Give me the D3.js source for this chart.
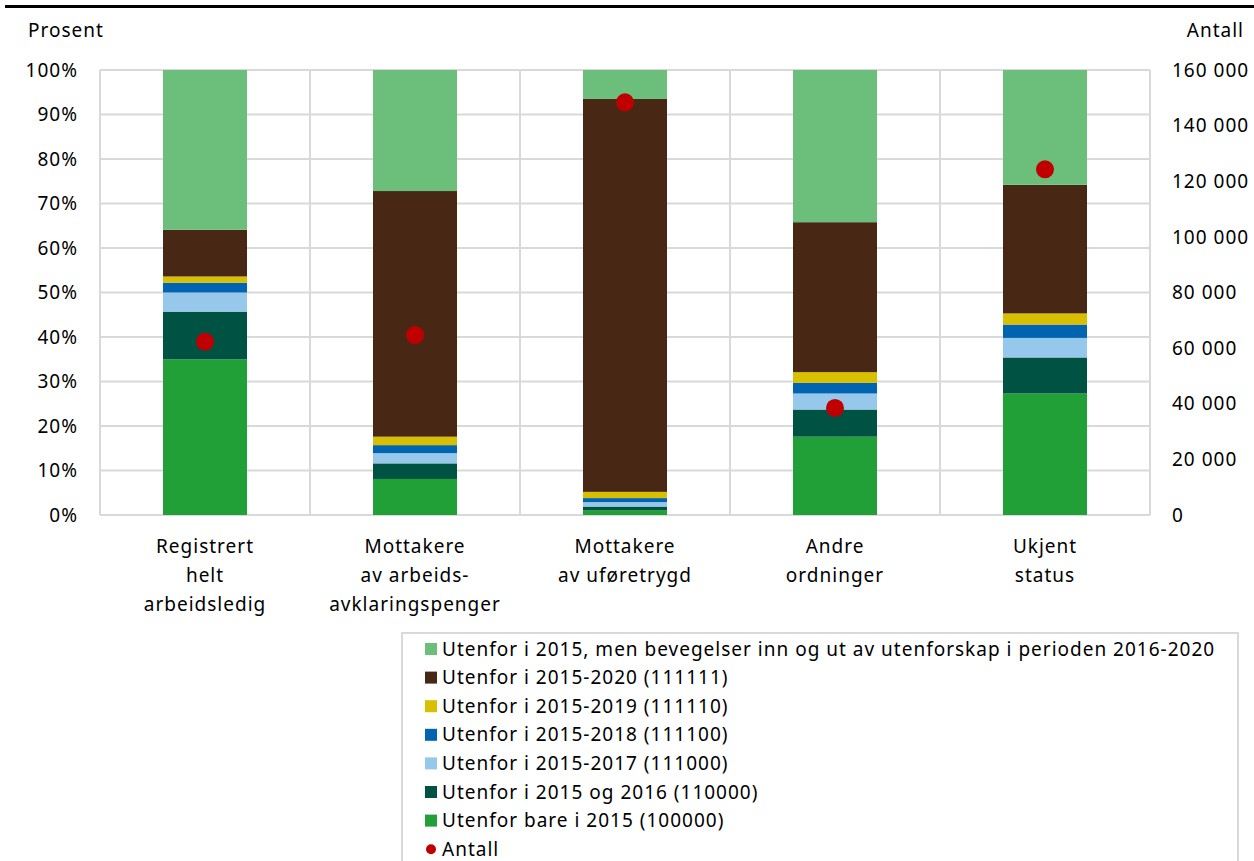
<!DOCTYPE html>
<html>
<head>
<meta charset="utf-8">
<script src="https://cdn.jsdelivr.net/npm/d3@7"></script>
<style>
  body { margin: 0; background: #fff; }
  text { font-family: "Noto Sans", "Open Sans", sans-serif; fill: #000; font-size: 19px; letter-spacing: 1px; }
</style>
</head>
<body>
<svg width="1254" height="861"></svg>
<script>
(function () {

    // categories (line-broken as in the chart)
    var categories = [
        ["Registrert", "helt", "arbeidsledig"],
        ["Mottakere", "av arbeids-", "avklaringspenger"],
        ["Mottakere", "av uføretrygd"],
        ["Andre", "ordninger"],
        ["Ukjent", "status"]
    ];

    // shares in percent, bottom to top
    var bare2015 = [35.0, 8.1, 1.1, 17.6, 27.3];
    var og2016 = [10.7, 3.5, 0.8, 6.1, 8.1];
    var til2017 = [4.3, 2.3, 1.0, 3.6, 4.4];
    var til2018 = [2.2, 1.8, 0.9, 2.4, 3.0];
    var til2019 = [1.4, 1.9, 1.4, 2.4, 2.5];
    var til2020 = [10.5, 55.2, 88.3, 33.7, 28.9];
    var bevegelser = [35.9, 27.2, 6.5, 34.2, 25.8];

    // number of persons (right axis)
    var antall = [62300, 64700, 148400, 38500, 124300];

    var pctTicks = [0, 10, 20, 30, 40, 50, 60, 70, 80, 90, 100];
    var antallTicks = [0, 20000, 40000, 60000, 80000, 100000, 120000, 140000, 160000];

    var series = [
        {name: "Utenfor bare i 2015 (100000)", values: bare2015, color: "#21a038"},
        {name: "Utenfor i 2015 og 2016 (110000)", values: og2016, color: "#005243"},
        {name: "Utenfor i 2015-2017 (111000)", values: til2017, color: "#96c8eb"},
        {name: "Utenfor i 2015-2018 (111100)", values: til2018, color: "#0064b0"},
        {name: "Utenfor i 2015-2019 (111110)", values: til2019, color: "#d8bf00"},
        {name: "Utenfor i 2015-2020 (111111)", values: til2020, color: "#482714"},
        {name: "Utenfor i 2015, men bevegelser inn og ut av utenforskap i perioden 2016-2020", values: bevegelser, color: "#6bbf7b"}
    ];

    var svg = d3.select("svg"),
        margin = {top: 70, right: 104, bottom: 346, left: 100},
        width = +svg.attr("width") - margin.left - margin.right,
        height = +svg.attr("height") - margin.top - margin.bottom;

    // top rule
    svg.append("line")
        .attr("x1", 5).attr("x2", 1254)
        .attr("y1", 6.5).attr("y2", 6.5)
        .attr("stroke", "#000").attr("stroke-width", 3);

    var g = svg.append("g").attr("transform", "translate(" + margin.left + "," + margin.top + ")");

    var idx = d3.range(categories.length);
    var x = d3.scaleBand().domain(idx).range([0, width]).paddingInner(0.6).paddingOuter(0.3);
    var y = d3.scaleLinear().domain([0, 100]).range([height, 0]);
    var y2 = d3.scaleLinear().domain([0, 160000]).range([height, 0]);

    // grid
    g.selectAll(".hgrid").data(pctTicks).enter().append("line")
        .attr("x1", 0).attr("x2", width)
        .attr("y1", d => y(d)).attr("y2", d => y(d))
        .attr("stroke", "#d9d9d9").attr("stroke-width", 2);

    var step = x.step();
    g.selectAll(".vgrid").data(d3.range(categories.length + 1)).enter().append("line")
        .attr("x1", d => d * step).attr("x2", d => d * step)
        .attr("y1", 0).attr("y2", height)
        .attr("stroke", "#d9d9d9").attr("stroke-width", 2);

    // stacked bars
    var table = idx.map(i => {
        var row = {i: i};
        series.forEach((s, k) => row[k] = s.values[i]);
        return row;
    });
    var stack = d3.stack().keys(d3.range(series.length))(table);

    g.selectAll(".layer").data(stack).enter().append("g")
        .attr("fill", (d, k) => series[k].color)
        .selectAll("rect").data(d => d).enter().append("rect")
        .attr("x", d => x(d.data.i))
        .attr("width", x.bandwidth())
        .attr("y", d => y(d[1]))
        .attr("height", d => y(d[0]) - y(d[1]));

    // antall dots
    g.selectAll(".dot").data(antall).enter().append("circle")
        .attr("cx", (d, i) => x(i) + x.bandwidth() / 2)
        .attr("cy", d => y2(d))
        .attr("r", 9)
        .attr("fill", "#c00000");

    // left axis labels
    g.selectAll(".ly").data(pctTicks).enter().append("text")
        .attr("x", -22).attr("y", d => y(d))
        .attr("dy", "0.35em")
        .attr("text-anchor", "end")
        .text(d => d + "%");

    // right axis labels
    var fmt = v => d3.format(",")(v).replace(/,/g, " ");
    g.selectAll(".ry").data(antallTicks).enter().append("text")
        .attr("x", width + 22).attr("y", d => y2(d))
        .attr("dy", "0.35em")
        .text(fmt);

    svg.append("text").attr("x", 28).attr("y", 37).text("Prosent");
    svg.append("text").attr("x", 1244).attr("y", 37).attr("text-anchor", "end").text("Antall");

    // category labels
    var cl = g.selectAll(".cat").data(categories).enter().append("text")
        .attr("text-anchor", "middle")
        .attr("transform", (d, i) => "translate(" + (x(i) + x.bandwidth() / 2) + "," + (height + 38) + ")");
    cl.selectAll("tspan").data(d => d).enter().append("tspan")
        .attr("x", 0).attr("y", (d, j) => j * 29)
        .text(d => d);

    // legend
    var legend = svg.append("g").attr("transform", "translate(402,633)");
    legend.append("rect")
        .attr("x", 0).attr("y", 0).attr("width", 836).attr("height", 240)
        .attr("fill", "none").attr("stroke", "#d9d9d9").attr("stroke-width", 2);

    var items = series.slice().reverse();
    var li = legend.selectAll(".li").data(items).enter().append("g")
        .attr("transform", (d, i) => "translate(23," + (16 + i * 28.6) + ")");
    li.append("rect").attr("x", 0).attr("y", -6).attr("width", 12).attr("height", 12).attr("fill", d => d.color);
    li.append("text").attr("x", 17).attr("dy", "0.35em").text(d => d.name);

    var la = legend.append("g").attr("transform", "translate(23," + (16 + items.length * 28.6) + ")");
    la.append("circle").attr("cx", 6).attr("cy", 0).attr("r", 5).attr("fill", "#c00000");
    la.append("text").attr("x", 17).attr("dy", "0.35em").text("Antall");

})();
</script>
</body>
</html>
